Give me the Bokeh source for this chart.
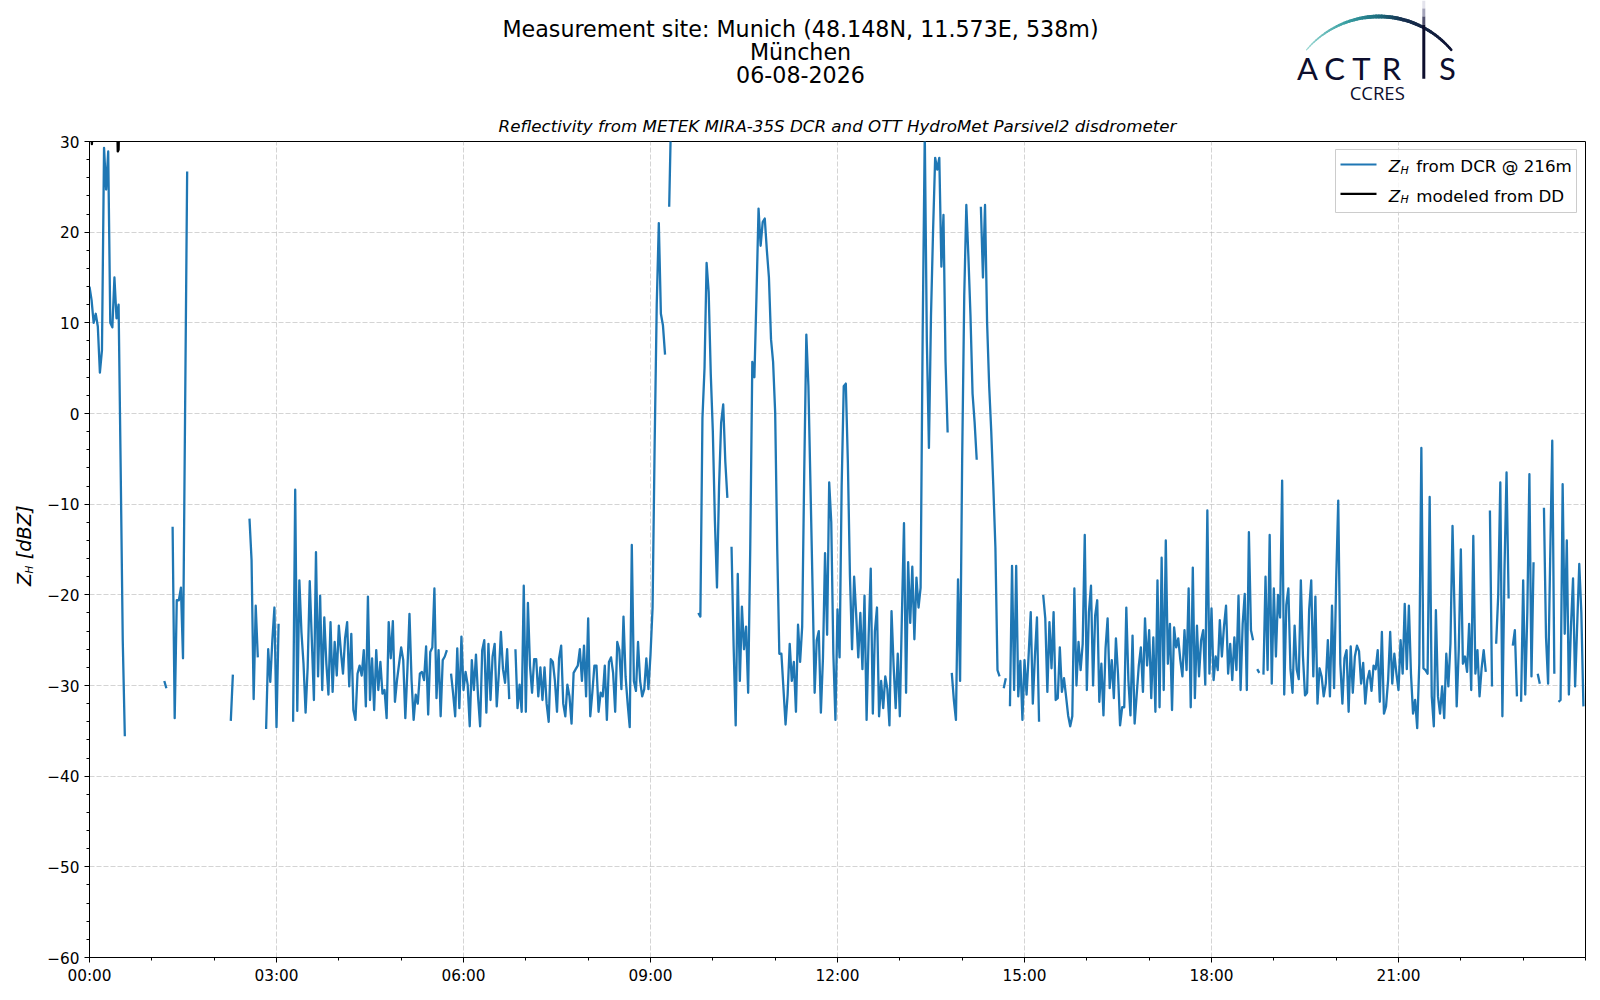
import numpy as np
from bokeh.plotting import figure
from bokeh.models import Range1d, FixedTicker
from bokeh.layouts import column, row
from bokeh.embed import file_html
from bokeh.resources import INLINE
from bokeh.core.properties import value

N = float("nan")

# ---------------- data: Z_H from DCR, 2-minute samples, one list per hour ----------------
H00 = [14, 12.5, 10, 11, 9.6, 4.5, 7, 29.3, 24.7, 28.9, 10, 9.5, 15, 10.5, 12, -6, -25, -35.6,
       N, N, N, N, N, N, N, N, N, N, N, N]
H01 = [N, N, N, N, N, N, -29.5, -30.3, N, N, -12.5, -33.6, -20.6, -20.6, -19.2, -27, 0, 26.7,
       N, N, N, N, N, N, N, N, N, N, N, N]
H02 = [N, N, N, N, N, N, N, N, -33.9, -28.8, N, N, N, N, N, N, N, -11.6, -16.2, -31.5, -21.2, -26.9,
       N, N, N, -34.8, -26, -29.6, -25, -21.4]
H03 = [-34.6, -23.2, N, N, N, N, N, N, -34, -8.4, -32.8, -18.4, -24.1, -27.6, -33, -28, -18.5, -25,
       -31.6, -15.3, -29, -20.1, -30.5, -22.5, -27.6, -31, -23, -30.7, -25.2, -28.9]
H04 = [-23.4, -26.3, -28.7, -24.8, -23, -30.1, -24.3, -32.7, -33.8, -28.7, -27.8, -28.9, -26.1, -32.3,
       -20.2, -31.6, -27, -32.7, -26.1, -30.5, -27.4, -30.9, -30.5, -33.6, -23, -27, -22.9, -31.8, -29.4, -27.6]
H05 = [-25.8, -27.2, -33.6, -28.3, -22.1, -29.4, -33.8, -31, -32, -28.7, -28.5, -29.4, -25.7, -33.2,
       -26.3, -25.8, -19.3, -31.4, -26.1, -33.4, -27.2, -26.8, -26.1, N, -28.7, -30.9, -33.4, -25.9, -32.5, -24.6]
H06 = [-30.5, -28.5, -29.9, -34.5, -27.2, -30.5, -26.6, -31.2, -34.5, -26.1, -25, -33, -25.4, -31.6,
       -26.8, -25.4, -32.3, -28.7, -24.1, -28.2, -29.7, -26, -31.5, N, N, -26, -32.5, -29.9, -32.9, -19]
H07 = [-32.9, -20.9, -27.8, -30.8, -27.1, -27.1, -31.2, -28, -31.6, -28, -32, -34, -27.1, -27.4, -29.5,
       -32.9, -27, -25.6, -32, -33.4, -29.9, -31.2, -34.2, -28.6, -28.2, -27.8, -26, -29.5, -25.6, -31.2]
H08 = [-22.6, -33.4, -30.8, -27.8, -27.8, -32.9, -30.8, -31.2, -27.8, -33.8, -27.4, -26.9, -28.6, -32.9,
       -25.2, -26.1, -30.4, -22.4, -29, -32, -34.6, -14.5, -29.5, -30.6, -25.2, -29.5, -31.2, -30.4, -27, -30.4]
H09 = [-26.6, -21.4, -3.3, 12, 21, 11, 9.7, 6.5, N, 22.8, 34, N, N, N, N, N, N, N, N, N, N, N, N,
       -22, -22.4, -0.5, 5, 16.6, 13.4, 4.4]
H10 = [-2, -11.9, -19.2, -8, -1, 1, -5.3, -9.3, N, -14.7, -25.6, -34.4, -17.7, -29.5, -21.3, -26, -23.5,
       -30.8, -14.9, 5.7, 4, 12.9, 22.6, 18.5, 21.1, 21.5, 18, 15, 8.2, 5.7]
H11 = [0.1, -15, -26.5, -26.5, -30.4, -34.3, -31, -25.4, -29.5, -27.4, -32.9, -23.3, -27.4, -23.5, -6.3,
       8.7, 3, -8, -19.2, -30.8, -25, -24, -33, -27, -15.4, -24.4, -7.6, -12, -26.5, -33.8]
H12 = [-21.6, -26.9, -8, 3, 3.3, -5.5, -18, -26, -18, -22.2, -26.9, -22, -28.2, -20.1, -33.8, -24.4,
       -17.1, -33.1, -24, -21.4, -33.4, -29.5, -32.5, -29, -30.4, -34.4, -21.8, -27.8, -32.5, -26.5]
H13 = [-33.4, -22.2, -12.1, -30.8, -16.4, -23.1, -16.9, -24.9, -18.1, -21.4, -19.2, 9, 31, 8, -3.8,
       10.8, 20.2, 28.2, 26.9, 28.2, 16.2, 21.9, 5.7, -2.1, N, -28.6, -31.6, -33.8, -18.3, -29.5]
H14 = [-5, 13, 23, 17.3, 10.8, 2.2, -1, -5.1, N, 22.8, 15, 23, 10, 3, -2, -8.1, -14.8, -28.3, -29, N,
       -30.3, -29.2, N, -32.3, -16.8, -30.5, -16.8, -31.2, -27.3, -33.8]
H15 = [-27.2, -31, -26.6, -21.9, -32, -26.8, -22.5, -34, N, -20, -22.6, -30.7, -23, -28.1, -21.9, -31.6,
       -31.4, -25.8, -30.7, -29.2, -31.2, -33.3, -34.5, -33.4, -19.3, -30, -25.2, -28.3, -25.4, -13.4]
H16 = [-30.5, -21.9, -19, -30, -22.3, -20.6, -31.8, -27.6, -33.3, -25.9, -22.6, -30.3, -27.2, -31.4,
       -24.8, -28.7, -34.4, -32.4, -32.4, -21.4, -29.4, -33.3, -24.5, -34.2, -31, -27.8, -25.8, -30.7, -22.6, -27.8]
H17 = [-23.9, -31.4, -24.7, -32.9, -18.4, -32.4, -15.9, -30.5, -14, -27.6, -23.2, -32.7, -23.6, -25.8,
       -24.8, -27.2, -29, -23.9, -28.3, -19.3, -32.4, -17, -31.4, -23.4, -29, -25, -23.9, -29.9, -10.7, -28.7]
H18 = [-21.5, -29.4, -26.8, -28.3, -22.8, -26.8, -23.5, -21.2, -28.7, -25.4, -29.4, -24.7, -28.3, -20.1,
       -30.5, -23.2, -19.9, -30.5, -13.1, -23.9, -25, N, -28.2, -28.6, N, -28.8, -18, -28.3, -13.4, -29.8]
H19 = [-19.3, -26.8, -20, -22.5, -7.4, -31, -21.1, -19.3, -28.2, -30.8, -23.4, -28.2, -29.3, -18.4,
       -26.7, -31.1, -30.8, -21.6, -18.4, -29, -20.2, -32, -28.1, -29, -31.2, -29.8, -25, -31.2, -21.2, -30.3]
H20 = [-18.4, -9.6, -27.6, -32, -27, -26.1, -32.9, -25.7, -30.8, -26.8, -25.6, -26.2, -29.8, -27.5, -32,
       -29.4, -28.4, -30.6, -27.8, -28.2, -26.1, -31.8, -24.1, -33.1, -32.3, -29.4, -24.1, -29.8, -26.5, -28.7]
H21 = [-30.5, -25, -28.7, -21, -28.2, -21.2, -28.7, -33.1, -31.6, -34.7, -27.6, -3.8, -28.1, -28.3, -28.7,
       -9.2, -31.2, -34.5, -21.7, -31.2, -33.1, -30.1, -33.6, -26.5, -30.1, -25.4, -12.4, -22.1, -32.3, -26.1]
H22 = [-15, -27.6, -26.8, -28.5, -23.2, -30.5, -13.5, -28.7, -26.1, -31.2, -28.1, -26.1, -28.5, N, -10.7,
       -30.1, N, -25.4, -20, -7.6, -33.4, -17.3, -6.5, -20.4, N, -25.6, -23.9, -31.2, N, -31.8]
H23 = [-18.4, -31, -21.9, -6.7, -29, -16.4, N, -28.7, -29.8, N, -10.4, -24.7, -29.8, -16, -3, -28.7, N,
       -31.8, -31.6, -7.8, -24.3, -14, -31, -23.5, -18.2, -30.1, -23.3, -16.6, -22, -32.3]
HOURS = [H00, H01, H02, H03, H04, H05, H06, H07, H08, H09, H10, H11,
         H12, H13, H14, H15, H16, H17, H18, H19, H20, H21, H22, H23]

# Z_H modeled from disdrometer (only visible as short pieces at the top edge)
dd_minutes = [1.3, 2.3, 3.3, 4.0, 26.5, 27.2, 28.0, 28.7]
dd_values = [32, 29.7, 32, N, 33, 28.9, 29.1, 33]

x_ticks = [0, 180, 360, 540, 720, 900, 1080, 1260]
x_tick_labels = ["00:00", "03:00", "06:00", "09:00", "12:00", "15:00", "18:00", "21:00"]
y_ticks = [-60, -50, -40, -30, -20, -10, 0, 10, 20, 30]
y_tick_labels = ["\u221260", "\u221250", "\u221240", "\u221230", "\u221220", "\u221210", "0", "10", "20", "30"]

title_lines = ["Measurement site: Munich (48.148N, 11.573E, 538m)", "M\u00fcnchen", "06-08-2026"]
subtitle = "Reflectivity from METEK MIRA-35S DCR and OTT HydroMet Parsivel2 disdrometer"
legend_labels = ["from DCR @ 216m", "modeled from DD"]
logo_letters = ["A", "C", "T", "R", "S"]
logo_sub = "CCRES"


def fit30(a):
    a = list(a)[:30]
    return a + [N] * (30 - len(a))


zh_dcr = np.array(sum((fit30(h) for h in HOURS), []), dtype=float)
minutes = np.arange(0, 1440, 2)

# ---------------- layout constants (page pixels) ----------------
W = 1598
TOTAL_H = 998
HEAD_H = 104
YL_W = 40
MAIN_W = W - YL_W
MAIN_H = TOTAL_H - HEAD_H
F_LEFT, F_RIGHT, F_TOP, F_BOTTOM = 89, 1585, 141, 957
NAVY = "#0d0e2d"


def dx(px):
    return (px - F_LEFT) * 1440.0 / (F_RIGHT - F_LEFT)


def dy(py):
    return 30 - (py - F_TOP) * 90.0 / (F_BOTTOM - F_TOP)


# ---------------- header (titles + logo) ----------------
h = figure(width=W, height=HEAD_H, x_range=Range1d(0, W), y_range=Range1d(HEAD_H, 0),
           toolbar_location=None, output_backend="svg", min_border=0,
           x_axis_location=None, y_axis_location=None)
h.grid.visible = False
h.outline_line_color = None
h.background_fill_color = "white"
h.border_fill_color = "white"

h.text(x=[800, 800, 800], y=[28.4, 51.8, 74.3], text=title_lines, text_align="center",
       text_baseline="middle", text_font=value("DejaVu Sans"), text_font_size="22.2px",
       text_color="black")


def lerp_color(stops, t):
    for (t0, c0), (t1, c1) in zip(stops[:-1], stops[1:]):
        if t <= t1:
            f = (t - t0) / (t1 - t0) if t1 > t0 else 0.0
            a = [int(c0[i:i + 2], 16) for i in (1, 3, 5)]
            b = [int(c1[i:i + 2], 16) for i in (1, 3, 5)]
            return "#%02x%02x%02x" % tuple(int(round(a[k] + (b[k] - a[k]) * f)) for k in range(3))
    return stops[-1][1]


arc_stops = [(0.0, "#9ad8d3"), (0.3, "#3aa0a3"), (0.5, "#1d6f80"), (0.65, "#17304f"), (1.0, "#0e1233")]
nseg = 60
ang = np.radians(np.linspace(-49.5, 49.5, nseg + 1))
arc_x = 1378.4 + 95.2 * np.sin(ang)
arc_y = 111.2 - 95.2 * np.cos(ang)
axs, ays, acol, awid = [], [], [], []
for i in range(nseg):
    t = (i + 0.5) / nseg
    axs.append([arc_x[i], arc_x[i + 1]])
    ays.append([arc_y[i], arc_y[i + 1]])
    acol.append(lerp_color(arc_stops, t))
    awid.append(1.0 + 3.0 * (t / 0.5) if t < 0.5 else 4.0 - 1.5 * ((t - 0.5) / 0.5))
h.multi_line(xs=axs, ys=ays, line_color=acol, line_width=awid, line_cap="round")

vx = 1423.3
h.multi_line(xs=[[vx, vx]] * 4, ys=[[0, 8], [8, 16], [16, 24], [24, 78.3]],
             line_color=["#e3e3ec", "#a4a4ba", "#52526f", NAVY], line_width=3)
h.text(x=[1307, 1334, 1361, 1391, 1447], y=[67.2] * 5, text=logo_letters, text_align="center",
       text_baseline="middle", text_font=value("Lato"), text_font_size="31px", text_color=NAVY)
h.text(x=[1376.7], y=[92.1], text=[logo_sub], text_align="center", text_baseline="middle",
       text_font=value("Open Sans"), text_font_size="18.5px", text_color=NAVY)

# ---------------- y-label strip ----------------
yl = figure(width=YL_W, height=MAIN_H, x_range=Range1d(0, YL_W), y_range=Range1d(TOTAL_H, HEAD_H),
            toolbar_location=None, output_backend="svg", min_border=0,
            x_axis_location=None, y_axis_location=None)
yl.grid.visible = False
yl.outline_line_color = None
yl.background_fill_color = "white"
yl.border_fill_color = "white"
yl.text(x=[24.3, 24.3], y=[591, 561.7], text=["Z", "[dBZ]"], angle=np.pi / 2, text_align="left",
        text_baseline="middle", text_font=value("DejaVu Sans"), text_font_style="italic",
        text_font_size="19.4px", text_color="black")
yl.text(x=[28.8], y=[577.3], text=["H"], angle=np.pi / 2, text_align="left",
        text_baseline="middle", text_font=value("DejaVu Sans"), text_font_style="italic",
        text_font_size="10.5px", text_color="black")

# ---------------- main plot ----------------
p = figure(width=MAIN_W, height=MAIN_H, x_range=Range1d(0, 1440), y_range=Range1d(-60, 30),
           toolbar_location=None, output_backend="svg",
           min_border_left=F_LEFT - YL_W, min_border_right=W - F_RIGHT,
           min_border_top=F_TOP - HEAD_H, min_border_bottom=TOTAL_H - F_BOTTOM)
p.background_fill_color = "white"
p.border_fill_color = "white"
p.outline_line_color = "black"
p.outline_line_width = 1
p.outline_line_alpha = 1

p.title.text = subtitle
p.title.align = "center"
p.title.text_font = "DejaVu Sans"
p.title.text_font_style = "italic"
p.title.text_font_size = "16.7px"
p.title.text_color = "black"
p.title.standoff = 11

p.xaxis.ticker = FixedTicker(ticks=x_ticks, minor_ticks=list(range(0, 1441, 60)))
p.yaxis.ticker = FixedTicker(ticks=y_ticks, minor_ticks=list(range(-60, 31, 2)))
p.xaxis.major_label_overrides = dict(zip(x_ticks, x_tick_labels))
p.yaxis.major_label_overrides = dict(zip(y_ticks, y_tick_labels))
for ax in (p.xaxis[0], p.yaxis[0]):
    ax.major_tick_out = 5
    ax.major_tick_in = 0
    ax.minor_tick_out = 3
    ax.minor_tick_in = 0
    ax.axis_line_color = "black"
    ax.major_tick_line_color = "black"
    ax.minor_tick_line_color = "black"
    ax.major_label_text_font = "DejaVu Sans"
    ax.major_label_text_font_size = "15.3px"
    ax.major_label_text_color = "black"
    ax.major_label_standoff = 5
p.xaxis[0].major_label_standoff = 4

p.grid.grid_line_color = "#b0b0b0"
p.grid.grid_line_alpha = 0.55
p.grid.grid_line_dash = "5 2"
p.grid.grid_line_width = 1

p.line(minutes, zh_dcr, line_color="#1f77b4", line_width=2.3, line_join="round")
p.line(dd_minutes, dd_values, line_color="black", line_width=2.3, line_join="round")

# legend (drawn manually to get the subscript)
p.quad(left=[dx(1335)], right=[dx(1576)], top=[dy(149)], bottom=[dy(212)],
       fill_color="white", fill_alpha=0.8, line_color="#cccccc", line_width=1)
p.segment(x0=[dx(1340)] * 2, x1=[dx(1376)] * 2, y0=[dy(164), dy(193.3)], y1=[dy(164), dy(193.3)],
          line_color=["#1f77b4", "black"], line_width=2.2)
p.text(x=[dx(1388.3)] * 2, y=[dy(165.7), dy(195)], text=["Z", "Z"], text_align="left",
       text_baseline="middle", text_font=value("DejaVu Sans"), text_font_style="italic",
       text_font_size="16.7px", text_color="black")
p.text(x=[dx(1400)] * 2, y=[dy(169.5), dy(198.8)], text=["H", "H"], text_align="left",
       text_baseline="middle", text_font=value("DejaVu Sans"), text_font_style="italic",
       text_font_size="11px", text_color="black")
p.text(x=[dx(1415.7)] * 2, y=[dy(165.7), dy(195)], text=legend_labels, text_align="left",
       text_baseline="middle", text_font=value("DejaVu Sans"), text_font_size="16.7px",
       text_color="black")

layout = column(h, row(yl, p, spacing=0), spacing=0)
open("out.html", "w").write(file_html(layout, INLINE, "Reflectivity"))
